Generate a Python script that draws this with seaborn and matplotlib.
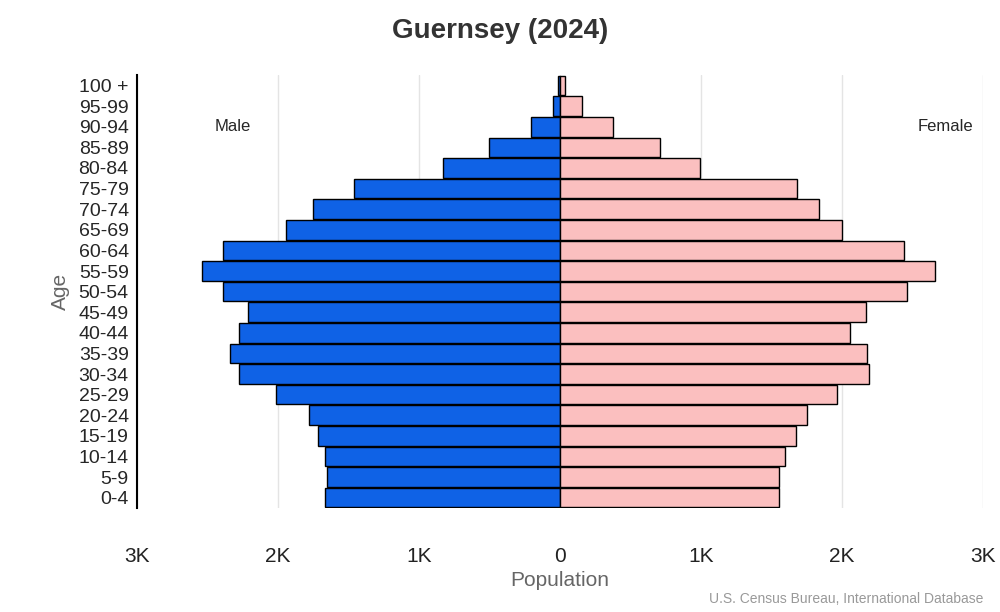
import numpy as np
import pandas as pd
import matplotlib
matplotlib.use("Agg")
import matplotlib.pyplot as plt
import seaborn as sns

# 年龄组（从上到下）
ages = ["100 +", "95-99", "90-94", "85-89", "80-84", "75-79", "70-74", "65-69",
        "60-64", "55-59", "50-54", "45-49", "40-44", "35-39", "30-34", "25-29",
        "20-24", "15-19", "10-14", "5-9", "0-4"]
male = [15, 50, 205, 505, 830, 1460, 1750, 1945, 2390, 2540, 2390, 2210,
        2275, 2340, 2275, 2015, 1780, 1715, 1665, 1650, 1670]
female = [35, 155, 375, 710, 995, 1680, 1835, 2000, 2440, 2660, 2460, 2170,
          2055, 2175, 2190, 1965, 1750, 1675, 1595, 1555, 1555]

df = pd.DataFrame({"Age": ages, "Male": male, "Female": female})
df["MaleNeg"] = -df["Male"]

sns.set_style("white")
plt.rcParams["font.family"] = "Liberation Sans"
fig = plt.figure(figsize=(10, 6.12), dpi=100)
ax = fig.add_axes([0.137, 0.17, 0.846, 0.707])

sns.barplot(data=df, x="MaleNeg", y="Age", order=ages, orient="h", color="#0f62e6",
            saturation=1, width=0.95, edgecolor="black", linewidth=1, ax=ax)
sns.barplot(data=df, x="Female", y="Age", order=ages, orient="h", color="#fbbfbf",
            saturation=1, width=0.95, edgecolor="black", linewidth=1, ax=ax)

ax.set_xlim(-3000, 3000)
ax.set_ylim(len(ages) - 0.5, -0.5)
ax.set_xticks([-3000, -2000, -1000, 0, 1000, 2000, 3000])
ax.set_xticklabels(["3K", "2K", "1K", "0", "1K", "2K", "3K"], fontsize=15, color="#222222")
ax.tick_params(axis="x", length=0, pad=28)
ax.tick_params(axis="y", length=0, labelsize=14, pad=6)
ax.grid(axis="x", color="#e4e4e4", linewidth=1)
ax.set_axisbelow(True)
for s in ["top", "right", "bottom"]:
    ax.spines[s].set_visible(False)
ax.spines["left"].set_color("black")
ax.spines["left"].set_linewidth(1.5)

ax.set_xlabel("Population", fontsize=15, color="#666666")
ax.set_ylabel("Age", fontsize=15, color="#666666", labelpad=6)
ax.text(-2450, 2, "Male", fontsize=12, ha="left", va="center")
ax.text(2930, 2, "Female", fontsize=12, ha="right", va="center")

fig.suptitle("Guernsey (2024)", fontsize=20, fontweight="bold", color="#333333", y=0.97)
fig.text(0.983, 0.015, "U.S. Census Bureau, International Database", fontsize=10,
         color="#999999", ha="right")

plt.savefig("out.png")
plt.close()
